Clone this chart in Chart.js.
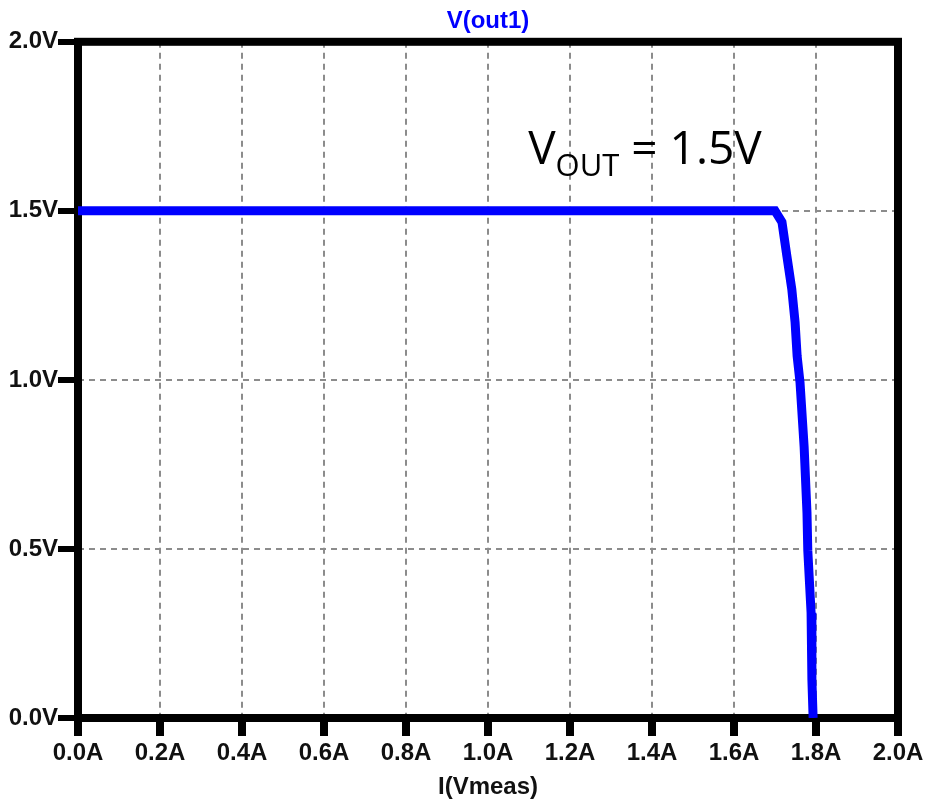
<!DOCTYPE html>
<html>
<head>
<meta charset="utf-8">
<script src="https://cdn.jsdelivr.net/npm/chart.js@4/dist/chart.umd.min.js"></script>
<style>
  html, body { margin: 0; padding: 0; background: #ffffff; }
  #wrap { width: 929px; height: 802px; }
</style>
</head>
<body>
<div id="wrap"><canvas id="chart" width="929" height="802"></canvas></div>
<script>
// I(Vmeas) in A, V(out1) in V
var currentA = [0.0, 1.70, 1.717, 1.729, 1.741, 1.749, 1.754, 1.761, 1.771, 1.778, 1.780, 1.788, 1.790, 1.793];
var voltageV = [1.5, 1.5, 1.467, 1.366, 1.268, 1.170, 1.070, 0.993, 0.803, 0.607, 0.495, 0.311, 0.113, 0.0];
var xTickStep = 0.2;
var yTickStep = 0.5;
var traceName = 'V(out1)';
var xAxisName = 'I(Vmeas)';
var noteMain = 'V';
var noteSub = 'OUT';
var noteRest = ' = 1.5V';
var notePos = [1.098, 1.64];

var points = currentA.map(function (x, i) { return { x: x, y: voltageV[i] }; });

var labelFont = { family: '"Liberation Sans", Arial, sans-serif', size: 24, weight: 'bold', lineHeight: 1.2 };

var framePlugin = {
    id: 'frame',
    beforeDatasetsDraw: function (chart) {
        var a = chart.chartArea, c = chart.ctx;
        c.save();
        c.strokeStyle = '#000000';
        c.lineWidth = 8;
        c.strokeRect(a.left, a.top, a.right - a.left, a.bottom - a.top);
        c.restore();
    },
    afterDraw: function (chart) {
        var c = chart.ctx;
        var x = chart.scales.x.getPixelForValue(notePos[0]);
        var y = chart.scales.y.getPixelForValue(notePos[1]);
        c.save();
        c.fillStyle = '#000000';
        c.textBaseline = 'alphabetic';
        c.textAlign = 'left';
        c.font = '46px "Open Sans", "Noto Sans", sans-serif';
        c.fillText(noteMain, x, y);
        var w = c.measureText(noteMain).width;
        c.font = '31px "Open Sans", "Noto Sans", sans-serif';
        c.fillText(noteSub, x + w, y + 12);
        var w2 = c.measureText(noteSub).width;
        c.font = '46px "Open Sans", "Noto Sans", sans-serif';
        c.fillText(noteRest, x + w + w2, y);
        c.restore();
    }
};

var ctx = document.getElementById('chart');
new Chart(ctx, {
    type: 'line',
    data: {
        datasets: [{
            label: traceName,
            data: points,
            borderColor: '#0000ff',
            borderWidth: 9,
            pointRadius: 0,
            tension: 0,
            fill: false
        }]
    },
    options: {
        responsive: false,
        animation: false,
        layout: { padding: { left: 0, right: 31, top: 0, bottom: 0 } },
        plugins: {
            legend: { display: false },
            tooltip: { enabled: false },
            title: {
                display: true,
                fullSize: false,
                text: traceName,
                color: '#0000ff',
                font: labelFont,
                padding: { top: 7, bottom: 6 }
            }
        },
        scales: {
            x: {
                type: 'linear',
                min: 0,
                max: 2,
                afterFit: function (s) { s.height = 84; },
                ticks: {
                    stepSize: xTickStep,
                    padding: 3,
                    color: '#111111',
                    font: labelFont,
                    maxRotation: 0,
                    callback: function (v) { return v.toFixed(1) + 'A'; }
                },
                grid: {
                    color: '#8c8c8c',
                    lineWidth: 2,
                    tickColor: '#000000',
                    tickWidth: 8,
                    tickLength: 18
                },
                border: { display: false, dash: [6, 5] },
                title: {
                    display: true,
                    text: xAxisName,
                    color: '#111111',
                    font: labelFont,
                    padding: { top: 0, bottom: 0 }
                }
            },
            y: {
                type: 'linear',
                min: 0,
                max: 2,
                afterFit: function (s) { s.width = 78; },
                ticks: {
                    stepSize: yTickStep,
                    padding: 0,
                    color: '#111111',
                    font: labelFont,
                    callback: function (v) { return v.toFixed(1) + 'V'; }
                },
                grid: {
                    color: '#8c8c8c',
                    lineWidth: 2,
                    tickColor: '#000000',
                    tickWidth: 6,
                    tickLength: 20
                },
                border: { display: false, dash: [6, 5] }
            }
        }
    },
    plugins: [framePlugin]
});
</script>
</body>
</html>
